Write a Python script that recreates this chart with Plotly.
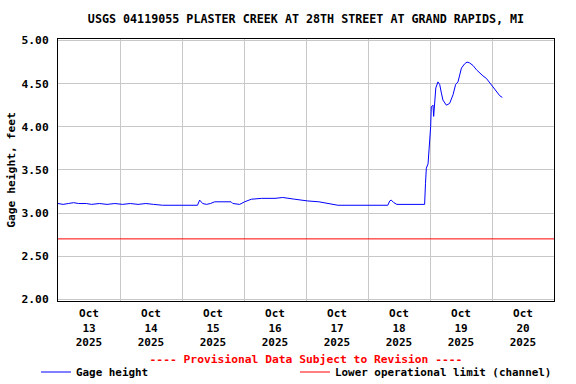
import plotly.graph_objects as go

TITLE = "USGS 04119055 PLASTER CREEK AT 28TH STREET AT GRAND RAPIDS, MI"
Y_TITLE = "Gage height, feet"
X_TITLE = "---- Provisional Data Subject to Revision ----"
SERIES_NAME = "Gage height"
LIMIT_NAME = "Lower operational limit (channel)"

times = [
    "2025-10-13 00:00", "2025-10-13 02:00", "2025-10-13 04:00", "2025-10-13 06:00",
    "2025-10-13 08:00", "2025-10-13 11:00", "2025-10-13 13:00", "2025-10-13 16:00",
    "2025-10-13 19:00", "2025-10-13 22:00", "2025-10-14 01:00", "2025-10-14 04:00",
    "2025-10-14 07:00", "2025-10-14 10:00", "2025-10-14 13:00", "2025-10-14 16:30",
    "2025-10-15 06:00", "2025-10-15 06:50", "2025-10-15 08:00", "2025-10-15 09:30",
    "2025-10-15 11:00", "2025-10-15 12:40", "2025-10-15 19:00", "2025-10-15 19:40",
    "2025-10-15 22:20", "2025-10-16 00:15", "2025-10-16 02:50", "2025-10-16 06:50",
    "2025-10-16 12:00", "2025-10-16 15:00", "2025-10-16 19:40", "2025-10-16 22:00",
    "2025-10-17 00:40", "2025-10-17 05:00", "2025-10-17 09:00", "2025-10-17 12:20",
    "2025-10-18 07:40", "2025-10-18 08:25", "2025-10-18 09:00", "2025-10-18 10:00",
    "2025-10-18 11:10", "2025-10-18 16:00", "2025-10-18 21:55", "2025-10-18 22:15",
    "2025-10-18 22:35", "2025-10-18 23:15", "2025-10-18 23:50", "2025-10-19 00:15",
    "2025-10-19 00:30", "2025-10-19 01:10", "2025-10-19 01:25", "2025-10-19 01:50",
    "2025-10-19 02:15", "2025-10-19 03:05", "2025-10-19 03:45", "2025-10-19 04:25",
    "2025-10-19 05:00", "2025-10-19 06:20", "2025-10-19 07:35", "2025-10-19 08:55",
    "2025-10-19 09:55", "2025-10-19 10:50", "2025-10-19 11:30", "2025-10-19 12:10",
    "2025-10-19 13:25", "2025-10-19 14:20", "2025-10-19 15:20", "2025-10-19 16:40",
    "2025-10-19 18:00", "2025-10-19 19:15", "2025-10-19 20:30", "2025-10-19 21:50",
    "2025-10-19 23:05", "2025-10-20 00:25", "2025-10-20 01:40", "2025-10-20 03:00",
    "2025-10-20 04:00",
]
gage_height = [
    3.11, 3.10, 3.11, 3.12,
    3.11, 3.11, 3.10, 3.11,
    3.10, 3.11, 3.10, 3.11,
    3.10, 3.11, 3.10, 3.09,
    3.09, 3.15, 3.11, 3.10,
    3.11, 3.13, 3.13, 3.11,
    3.10, 3.13, 3.16, 3.17,
    3.17, 3.18, 3.16, 3.15,
    3.14, 3.13, 3.11, 3.09,
    3.09, 3.14, 3.15, 3.12,
    3.10, 3.10, 3.10, 3.34,
    3.52, 3.57, 3.77, 4.00,
    4.23, 4.25, 4.12, 4.33,
    4.45, 4.52, 4.49, 4.39,
    4.31, 4.25, 4.27, 4.37,
    4.49, 4.52, 4.62, 4.68,
    4.73, 4.75, 4.74, 4.71,
    4.66, 4.62, 4.59, 4.56,
    4.51, 4.47, 4.41, 4.36,
    4.34,
]
lower_limit = 2.70
x_range = ["2025-10-13 00:00", "2025-10-21 00:00"]
y_ticks = [2.0, 2.5, 3.0, 3.5, 4.0, 4.5, 5.0]
y_range = [1.980, 5.0174]

FONT = "DejaVu Sans Mono"
FS = 10.9

ML, MR, MT, MB = 58, 22, 39, 83
PW = 576 - ML - MR
PH = 384 - MT - MB

fig = go.Figure()
fig.add_trace(go.Scatter(
    x=times, y=gage_height, mode="lines", name=SERIES_NAME,
    line=dict(color="#0000ff", width=1),
))
fig.add_trace(go.Scatter(
    x=x_range, y=[lower_limit, lower_limit], mode="lines", name=LIMIT_NAME,
    line=dict(color="#ff0000", width=1),
))

fig.update_layout(
    width=576, height=384,
    margin=dict(l=ML, r=MR, t=MT, b=MB, autoexpand=False),
    paper_bgcolor="white", plot_bgcolor="white",
    font=dict(family=FONT, size=FS, color="black", weight="bold"),
    title=dict(text=TITLE, x=0.5, xanchor="center", xref="paper",
               y=1 - 19.0 / 384, yanchor="middle", yref="container",
               font=dict(family=FONT, size=11.7, color="black", weight="bold")),
    showlegend=True,
    legend=dict(orientation="h", xref="paper", yref="paper",
                x=(36 - ML) / PW, xanchor="left",
                y=(384 - MB - 372) / PH, yanchor="middle",
                entrywidth=214, entrywidthmode="pixels",
                font=dict(family=FONT, size=FS, color="black", weight="bold"),
                bgcolor="rgba(0,0,0,0)", borderwidth=0, itemwidth=30),
    xaxis=dict(
        type="date", range=x_range, automargin=False,
        tick0="2025-10-13", dtick=86400000, ticklabelmode="period",
        tickformat="%b<br>%d<br>%Y",
        showgrid=True, gridcolor="#c8c8c8", gridwidth=1,
        showline=True, linecolor="black", linewidth=1, mirror=True,
        ticks="", zeroline=False, ticklabelstandoff=2,
        tickfont=dict(family=FONT, size=11.0, color="black", weight="bold"),
        title=dict(text=X_TITLE, standoff=7,
                   font=dict(family=FONT, size=11.3, color="#ff0000", weight="bold")),
    ),
    yaxis=dict(
        range=y_range, tickvals=y_ticks, tickformat=".2f", automargin=False,
        showgrid=True, gridcolor="#c8c8c8", gridwidth=1,
        showline=True, linecolor="black", linewidth=1, mirror=True,
        ticks="", zeroline=False, ticklabelstandoff=6,
        tickfont=dict(family=FONT, size=11.3, color="black", weight="bold"),
        title=dict(text=Y_TITLE + "\u00a0\u00a0", standoff=3,
                   font=dict(family=FONT, size=11.3, color="black", weight="bold")),
    ),
)

fig.write_html(
    "out.html",
    config={"displayModeBar": False},
    post_script="document.body.style.margin='0';document.body.style.overflow='hidden';",
)
